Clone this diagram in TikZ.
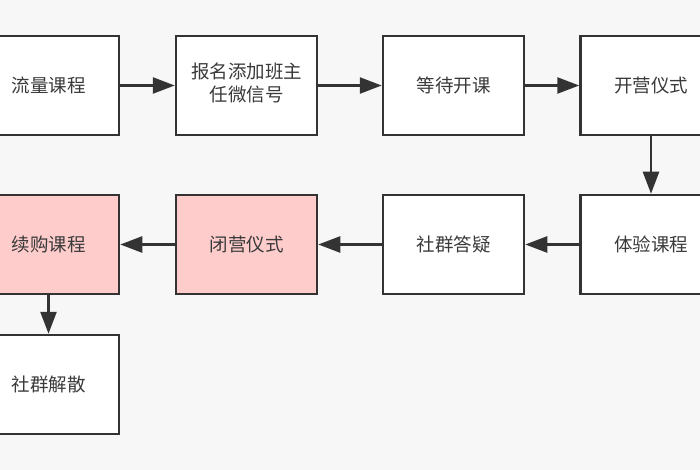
\documentclass[tikz,border=0pt]{standalone}
\usepackage{fontspec}
\setmainfont{Noto Sans CJK SC}
\usetikzlibrary{arrows.meta}
\definecolor{bg}{HTML}{F7F7F8}
\definecolor{edge}{HTML}{333333}
\definecolor{txt}{HTML}{3A3A3A}
\definecolor{pinkfill}{HTML}{FFCCCC}
\tikzset{
  stepbox/.style={draw=edge, line width=2.5pt, fill=white, minimum width=141pt, minimum height=99pt, inner sep=0pt, align=center, text=txt, font=\fontsize{18.5}{22.5}\selectfont},
  pinkbox/.style={stepbox, fill=pinkfill},
  conn/.style={draw=edge, line width=2.5pt, -{Triangle[length=22pt,width=16pt]}}
}
\begin{document}
\begin{tikzpicture}[x=1pt,y=-1pt]
\fill[bg] (0,0) rectangle (700,470);
\useasboundingbox (0,0) rectangle (700,470);
\node[stepbox] (a) at (48.5,85.5) {流量课程};
\node[stepbox] (b) at (246.5,85.5) {\raisebox{-3pt}{\begin{tabular}{@{}c@{}}报名添加班主\\[0.5pt]任微信号\end{tabular}}};
\node[stepbox] (c) at (453.5,85.5) {等待开课};
\node[stepbox] (d) at (651,85.5) {开营仪式};
\node[stepbox] (e) at (651,244.5) {体验课程};
\node[stepbox] (f) at (453.5,244.5) {社群答疑};
\node[pinkbox] (g) at (246.5,244.5) {闭营仪式};
\node[pinkbox] (h) at (48.5,244.5) {续购课程};
\node[stepbox] (i) at (48.5,384.5) {社群解散};
\draw[conn] (a) -- (b);
\draw[conn] (b) -- (c);
\draw[conn] (c) -- (d);
\draw[conn] (d) -- (e);
\draw[conn] (e) -- (f);
\draw[conn] (f) -- (g);
\draw[conn] (g) -- (h);
\draw[conn] (h) -- (i);
\end{tikzpicture}
\end{document}
